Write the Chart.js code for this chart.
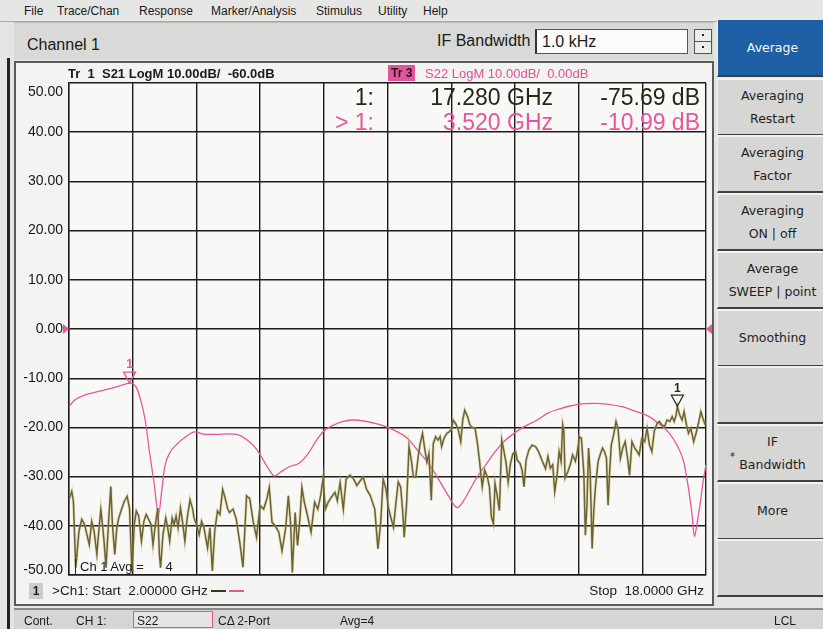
<!DOCTYPE html>
<html>
<head>
<meta charset="utf-8">
<script src="https://cdn.jsdelivr.net/npm/chart.js@4.4.1/dist/chart.umd.min.js"></script>
<style>
  html, body { margin: 0; padding: 0; }
  body { width: 823px; height: 629px; overflow: hidden; position: relative; background: #e4e4e2;
         font-family: "Liberation Sans", Arial, sans-serif; color: #1a1a1a; }
  .abs { position: absolute; white-space: nowrap; }
  .narrow { font-family: "Liberation Sans Narrow", "Arial Narrow", "Liberation Sans", sans-serif; }
  #menubar { left: 0; top: 0; width: 823px; height: 21px; background: #e6e6e4; border-bottom: 1px solid #a8a8a8; }
  #menubar span { position: absolute; top: 4px; font-size: 12px; }
  #chanbar { left: 14px; top: 22px; width: 700px; height: 37px; background: #d9d9d7; border-top: 1px solid #bbb; }
  #bezel { left: 7px; top: 58px; width: 3px; height: 571px; background: #222; }
  #panel { left: 14px; top: 61px; width: 700px; height: 545px; box-sizing: border-box;
           border: 2px solid #5a5a5a; background: #f3f3f1; }
  #chart { position: absolute; left: 0; top: 0; }
  .soft { position: absolute; left: 717px; width: 110px; box-sizing: border-box; background: #d6d6d4;
          border-top: 2px solid #f2f2f0; border-bottom: 2px solid #404040; border-left: 1px solid #f0f0f0;
          font-family: "DejaVu Sans", Verdana, sans-serif; font-size: 12.5px; color: #1e1e1e;
          display: flex; flex-direction: column; justify-content: center; align-items: center; line-height: 23px; }
  #status { left: 14px; top: 608px; width: 809px; height: 21px; background: #d5d5d3; border-top: 2px solid #8a8a8a; }
  #status span { position: absolute; top: 4px; font-size: 12px; }
</style>
</head>
<body>

<div id="menubar" class="abs narrow">
  <span style="left:24px">File</span>
  <span style="left:57px">Trace/Chan</span>
  <span style="left:139px">Response</span>
  <span style="left:211px">Marker/Analysis</span>
  <span style="left:316px">Stimulus</span>
  <span style="left:378px">Utility</span>
  <span style="left:423px">Help</span>
</div>

<div id="chanbar" class="abs"></div>
<div class="abs narrow" style="left:27px;top:36px;font-size:16px;">Channel 1</div>
<div class="abs narrow" style="left:437px;top:32px;font-size:16px;">IF Bandwidth</div>
<div class="abs narrow" style="left:535px;top:29px;width:153px;height:25px;box-sizing:border-box;background:#fbfbfa;border:1px solid #555;border-left:2px solid #333;font-size:16px;padding:3px 0 0 5px;">1.0 kHz</div>
<div class="abs" style="left:694px;top:29px;width:18px;height:25px;box-sizing:border-box;background:#ececea;border:1px solid #555;">
  <div style="position:absolute;left:0;top:11px;width:16px;height:1px;background:#555"></div>
  <div style="position:absolute;left:7px;top:4px;width:2px;height:2px;background:#222"></div>
  <div style="position:absolute;left:7px;top:16px;width:2px;height:2px;background:#222"></div>
</div>

<div id="bezel" class="abs"></div>

<div id="panel" class="abs">
  <canvas id="chart" width="696" height="541"></canvas>
</div>

<!-- trace headers and marker readout -->
<div class="abs narrow" style="left:68px;top:66px;font-size:13px;font-weight:bold;">Tr&nbsp;&nbsp;1&nbsp;&nbsp;S21 LogM 10.00dB/&nbsp;&nbsp;-60.0dB</div>
<div class="abs narrow" style="left:388px;top:65px;font-size:12px;font-weight:bold;background:#e2559a;color:#2a1020;padding:1px 3px;">Tr&nbsp;3</div>
<div class="abs narrow" style="left:425px;top:66px;font-size:13px;color:#e0509a;">S22 LogM 10.00dB/&nbsp;&nbsp;0.00dB</div>

<div class="abs" style="right:449px;top:84px;font-size:23px;color:#2a2418;">1:</div>
<div class="abs" style="right:270px;top:84px;font-size:23px;color:#2a2418;">17.280 GHz</div>
<div class="abs" style="right:123px;top:84px;font-size:23px;color:#2a2418;">-75.69 dB</div>
<div class="abs" style="right:449px;top:109px;font-size:23px;color:#e8559e;">&gt; 1:</div>
<div class="abs" style="right:270px;top:109px;font-size:23px;color:#e8559e;">3.520 GHz</div>
<div class="abs" style="right:123px;top:109px;font-size:23px;color:#e8559e;">-10.99 dB</div>

<div class="abs narrow" style="left:75px;top:559px;height:16px;border-left:1px solid #222;padding-left:4px;font-size:13px;">Ch 1 Avg =&nbsp;&nbsp;&nbsp;&nbsp;&nbsp;&nbsp;4</div>

<div class="abs" style="left:29px;top:583px;width:14px;height:16px;background:#cbcbc9;font-size:12px;font-weight:bold;text-align:center;line-height:16px;">1</div>
<div class="abs narrow" style="left:52px;top:583px;font-size:13.5px;">&gt;Ch1: Start&nbsp;&nbsp;2.00000 GHz</div>
<div class="abs" style="left:211px;top:590px;width:15px;height:2px;background:#3a3322"></div>
<div class="abs" style="left:229px;top:590px;width:15px;height:2px;background:#e8559e"></div>
<div class="abs narrow" style="right:119px;top:583px;font-size:13.5px;">Stop&nbsp;&nbsp;18.0000 GHz</div>

<div id="softkeys"></div>

<div id="status" class="abs narrow">
  <span style="left:10px">Cont.</span>
  <span style="left:62px">CH 1:</span>
  <span style="left:119px;top:1px;width:80px;height:17px;border:1px solid #e8559e;background:#e4e4e2;padding:2px 0 0 3px;box-sizing:border-box;">S22</span>
  <span style="left:204px">C&Delta; 2-Port</span>
  <span style="left:326px">Avg=4</span>
  <span style="left:760px">LCL</span>
</div>

<script>
// frequency axis in GHz, grid every 1.6 GHz (10 divisions)
const freqTicks = [2, 3.6, 5.2, 6.8, 8.4, 10, 11.6, 13.2, 14.8, 16.4, 18];
// display scale: Tr3 10 dB/div, ref 0 dB at centre
const dbTicks = [-50, -40, -30, -20, -10, 0, 10, 20, 30, 40, 50];

// Tr 3: S22 (dB)
const s22Freq = [2.00, 2.15, 2.40, 2.74, 3.08, 3.42, 3.52, 3.68, 3.81, 3.92, 4.02, 4.13, 4.25, 4.32, 4.40, 4.53,
  4.70, 4.95, 5.16, 5.41, 5.71, 5.99, 6.25, 6.50, 6.71, 6.84, 7.01, 7.17, 7.31, 7.53, 7.78, 8.00, 8.21, 8.42,
  8.63, 8.89, 9.15, 9.40, 9.74, 10.00, 10.25, 10.50, 10.75, 11.00, 11.25, 11.50, 11.75, 11.92, 12.08, 12.25,
  12.46, 12.67, 12.92, 13.18, 13.42, 13.76, 14.05, 14.30, 14.55, 14.88, 15.22, 15.55, 15.89, 16.22, 16.55,
  16.81, 17.06, 17.27, 17.44, 17.56, 17.65, 17.71, 17.77, 17.86, 17.94, 18.00];
const s22Mag = [-15.7, -14.4, -13.4, -12.7, -12.0, -11.2, -10.99, -11.7, -14.7, -18.8, -24.9, -30.9, -37.7, -33.6,
  -28.2, -25.2, -23.5, -21.8, -20.9, -21.4, -21.4, -21.3, -21.5, -22.7, -24.4, -26.1, -28.4, -29.9, -29.1, -28.0,
  -27.3, -25.4, -22.7, -20.6, -19.6, -18.8, -18.5, -18.7, -19.3, -20.0, -20.9, -22.2, -24.6, -27.0, -30.1, -33.5,
  -36.3, -34.8, -32.5, -30.1, -27.7, -25.3, -22.9, -21.2, -19.9, -18.5, -17.0, -16.3, -15.7, -15.2, -15.1, -15.3,
  -15.8, -16.7, -17.7, -19.2, -21.0, -23.6, -27.0, -32.4, -37.8, -42.2, -39.8, -35.1, -30.3, -27.6];

// Tr 1: S21 (dB), own scale 10 dB/div, ref -60 dB at centre
const s21Freq = [2.00, 2.07, 2.11, 2.17, 2.25, 2.32, 2.39, 2.45, 2.51, 2.57, 2.63, 2.70, 2.74, 2.80, 2.84, 2.88,
  2.93, 2.99, 3.05, 3.09, 3.15, 3.20, 3.25, 3.33, 3.39, 3.46, 3.52, 3.58, 3.64, 3.69, 3.75, 3.82, 3.88, 3.94,
  4.00, 4.06, 4.11, 4.17, 4.23, 4.27, 4.30, 4.36, 4.43, 4.48, 4.53, 4.59, 4.64, 4.69, 4.74, 4.80, 4.85, 4.91,
  4.97, 5.04, 5.10, 5.14, 5.20, 5.27, 5.33, 5.39, 5.48, 5.54, 5.60, 5.66, 5.73, 5.79, 5.86, 5.92, 5.98, 6.03,
  6.12, 6.20, 6.29, 6.37, 6.46, 6.54, 6.63, 6.71, 6.80, 6.89, 6.97, 7.03, 7.10, 7.18, 7.27, 7.35, 7.44, 7.51,
  7.57, 7.61, 7.68, 7.74, 7.80, 7.85, 7.91, 7.99, 8.08, 8.17, 8.25, 8.32, 8.38, 8.44, 8.51, 8.59, 8.68, 8.74,
  8.81, 8.89, 8.96, 9.06, 9.15, 9.23, 9.32, 9.39, 9.47, 9.57, 9.68, 9.76, 9.83, 9.89, 9.96, 10.02, 10.08,
  10.15, 10.21, 10.27, 10.33, 10.38, 10.42, 10.48, 10.54, 10.60, 10.65, 10.71, 10.77, 10.82, 10.88, 10.94,
  10.99, 11.04, 11.10, 11.15, 11.21, 11.27, 11.32, 11.36, 11.42, 11.49, 11.55, 11.60, 11.65, 11.71, 11.77,
  11.84, 11.89, 11.94, 12.01, 12.07, 12.13, 12.20, 12.26, 12.31, 12.38, 12.44, 12.51, 12.56, 12.61, 12.66,
  12.70, 12.76, 12.81, 12.87, 12.92, 12.98, 13.03, 13.09, 13.15, 13.22, 13.26, 13.33, 13.38, 13.43, 13.48,
  13.55, 13.63, 13.72, 13.80, 13.88, 13.97, 14.03, 14.09, 14.15, 14.20, 14.26, 14.31, 14.36, 14.40, 14.43,
  14.46, 14.53, 14.59, 14.65, 14.72, 14.77, 14.82, 14.87, 14.93, 14.97, 15.01, 15.05, 15.09, 15.14, 15.18,
  15.22, 15.29, 15.34, 15.40, 15.45, 15.50, 15.54, 15.58, 15.62, 15.68, 15.74, 15.79, 15.85, 15.91, 15.97,
  16.03, 16.08, 16.14, 16.21, 16.27, 16.32, 16.39, 16.46, 16.52, 16.58, 16.64, 16.70, 16.77, 16.83, 16.89,
  16.96, 17.02, 17.09, 17.15, 17.20, 17.25, 17.28, 17.34, 17.40, 17.45, 17.51, 17.56, 17.62, 17.69, 17.75,
  17.82, 17.87, 17.92, 17.98];
const s21Mag = [-94.7, -93.0, -95.0, -108.5, -101.1, -98.7, -99.7, -101.8, -103.8, -99.1, -101.1, -105.8, -101.8,
  -96.7, -99.7, -103.1, -108.5, -99.7, -92.0, -99.7, -105.8, -100.4, -98.4, -96.4, -95.0, -94.0, -96.4, -109.2,
  -99.7, -97.0, -98.0, -103.1, -99.1, -97.7, -98.7, -99.7, -103.8, -99.7, -96.4, -105.8, -108.5, -101.8, -98.4,
  -100.4, -103.1, -98.4, -99.7, -98.0, -100.4, -96.4, -99.1, -103.1, -98.4, -94.7, -96.4, -98.4, -99.7, -101.8,
  -99.1, -100.4, -104.5, -100.4, -109.2, -101.1, -97.0, -97.7, -92.6, -94.3, -96.4, -97.3, -96.6, -98.6, -103.4,
  -108.4, -93.9, -94.5, -99.3, -102.3, -95.9, -96.6, -94.5, -92.2, -99.3, -100.0, -101.3, -105.1, -100.6, -93.9,
  -100.0, -109.5, -97.3, -104.0, -98.6, -92.2, -95.2, -97.9, -101.3, -95.2, -96.6, -93.9, -90.5, -96.6, -95.2,
  -94.2, -93.2, -94.9, -91.2, -96.6, -90.5, -89.7, -90.5, -91.8, -90.8, -90.1, -92.5, -93.9, -96.6, -104.7,
  -99.3, -90.5, -92.5, -96.2, -98.2, -100.3, -95.5, -91.1, -92.1, -96.9, -102.3, -95.5, -83.9, -86.7, -90.1,
  -90.1, -86.0, -83.3, -81.2, -84.6, -87.0, -85.3, -94.8, -83.3, -81.9, -82.6, -81.9, -83.9, -82.2, -81.2,
  -80.9, -80.5, -78.5, -79.2, -80.2, -82.9, -78.5, -76.5, -77.8, -79.5, -80.0, -80.2, -83.3, -86.7, -92.1,
  -88.7, -90.1, -92.1, -98.2, -99.6, -91.4, -94.1, -96.9, -82.6, -84.6, -87.3, -91.1, -87.3, -85.3, -85.0,
  -86.7, -87.3, -88.7, -92.1, -86.7, -84.6, -83.6, -83.9, -85.0, -86.7, -88.4, -85.9, -88.3, -87.6, -93.1,
  -89.7, -84.9, -86.9, -79.5, -80.8, -90.3, -89.0, -87.6, -85.6, -86.9, -84.9, -81.9, -82.2, -89.0, -101.9,
  -95.8, -84.2, -89.0, -104.6, -97.1, -92.4, -86.9, -85.6, -84.2, -84.9, -86.3, -95.8, -89.0, -83.6, -81.5,
  -78.8, -80.2, -86.3, -84.2, -82.9, -86.3, -89.7, -82.9, -84.2, -84.9, -85.6, -82.2, -82.9, -80.2, -83.6,
  -84.9, -80.8, -79.2, -78.8, -79.5, -79.8, -78.5, -78.8, -77.8, -78.8, -77.5, -75.69, -77.5, -78.5, -76.8,
  -79.5, -81.2, -80.2, -82.9, -81.2, -78.8, -76.8, -78.1, -79.5];

// marker 1 on each trace: [GHz, dB]
const s22Marker = [3.52, -10.99];
const s21Marker = [17.28, -75.69];

const softkeyLabels = [
  ["Average"], ["Averaging", "Restart"], ["Averaging", "Factor"], ["Averaging", "ON | off"],
  ["Average", "SWEEP | point"], ["Smoothing"], [], ["IF", "Bandwidth"], ["More"], []
];

// softkey column
const sk = document.getElementById("softkeys");
softkeyLabels.forEach((lines, i) => {
  const d = document.createElement("div");
  d.className = "soft";
  d.style.top = (i === 0 ? 20 : 20 + i * 57.7) + "px";
  d.style.height = (i === 0 ? 57 : 58) + "px";
  if (i === 0) {
    d.style.background = "#1f5fa6";
    d.style.color = "#f4f8ff";
    d.style.borderTop = "none";
  }
  if (i === 7) {
    const star = document.createElement("span");
    star.textContent = "*";
    star.style.cssText = "position:absolute;left:12px;top:19px;font-size:10px;";
    d.appendChild(star);
  }
  lines.forEach(t => {
    const s = document.createElement("span");
    s.textContent = t;
    d.appendChild(s);
  });
  sk.appendChild(d);
});

const S21_COLOR = "#2e2818";
const S22_COLOR = "#e5579c";
const GRID = "#1c1c1c";

const s21Points = s21Freq.map((f, i) => ({ x: f, y: s21Mag[i] }));
const s22Points = s22Freq.map((f, i) => ({ x: f, y: s22Mag[i] }));

const vnaPlugin = {
  id: "vna",
  beforeDraw(chart) {
    const { ctx, chartArea: a } = chart;
    ctx.save();
    ctx.fillStyle = "#f8f8f6";
    ctx.fillRect(a.left, a.top, a.right - a.left, a.bottom - a.top);
    ctx.restore();
  },
  afterDraw(chart) {
    const { ctx, chartArea: a } = chart;
    const y = chart.scales.y;
    const x = chart.scales.x;
    const y21 = chart.scales.yS21;
    ctx.save();

    // y tick labels
    ctx.font = '14px "Liberation Sans", Arial, sans-serif';
    ctx.fillStyle = "#161616";
    ctx.textAlign = "right";
    ctx.textBaseline = "middle";
    dbTicks.forEach(v => {
      let py = y.getPixelForValue(v);
      if (v === dbTicks[dbTicks.length - 1]) py += 9;
      if (v === dbTicks[0]) py -= 5;
      ctx.fillText(v.toFixed(2), a.left - 6, py);
    });

    // reference position arrows (0 dB)
    const y0 = y.getPixelForValue(0);
    ctx.fillStyle = S22_COLOR;
    ctx.beginPath();
    ctx.moveTo(a.left, y0); ctx.lineTo(a.left - 6, y0 - 5); ctx.lineTo(a.left - 6, y0 + 5);
    ctx.closePath(); ctx.fill();
    ctx.beginPath();
    ctx.moveTo(a.right, y0); ctx.lineTo(a.right + 6, y0 - 5); ctx.lineTo(a.right + 6, y0 + 5);
    ctx.closePath(); ctx.fill();

    // markers
    function marker(px, py, color) {
      ctx.strokeStyle = color;
      ctx.fillStyle = color;
      ctx.lineWidth = 1.3;
      ctx.beginPath();
      ctx.moveTo(px, py); ctx.lineTo(px - 6, py - 11); ctx.lineTo(px + 6, py - 11);
      ctx.closePath(); ctx.stroke();
      ctx.font = 'bold 12px "Liberation Sans", Arial, sans-serif';
      ctx.textAlign = "center";
      ctx.textBaseline = "bottom";
      ctx.fillText("1", px, py - 12);
    }
    marker(x.getPixelForValue(s22Marker[0]), y.getPixelForValue(s22Marker[1]), S22_COLOR);
    marker(x.getPixelForValue(s21Marker[0]), y21.getPixelForValue(s21Marker[1]), S21_COLOR);
    ctx.restore();
  }
};

const gridOpts = { color: GRID, lineWidth: 1.4, drawTicks: false };

new Chart(document.getElementById("chart"), {
  type: "line",
  data: {
    datasets: [
      {
        label: "S21 glow",
        data: s21Points,
        yAxisID: "yS21",
        borderColor: "rgba(200,188,100,0.4)",
        borderWidth: 3,
        pointRadius: 0,
        tension: 0
      },
      {
        label: "Tr 1 S21",
        data: s21Points,
        yAxisID: "yS21",
        borderColor: S21_COLOR,
        borderWidth: 1.5,
        pointRadius: 0,
        tension: 0
      },
      {
        label: "Tr 3 S22",
        data: s22Points,
        yAxisID: "y",
        borderColor: S22_COLOR,
        borderWidth: 1.3,
        pointRadius: 0,
        cubicInterpolationMode: "monotone"
      }
    ]
  },
  options: {
    responsive: false,
    animation: false,
    parsing: false,
    layout: { padding: { left: 53, right: 6, top: 20, bottom: 29 } },
    scales: {
      x: {
        type: "linear",
        min: 2,
        max: 18,
        afterBuildTicks: s => { s.ticks = freqTicks.map(v => ({ value: v })); },
        ticks: { display: false },
        grid: gridOpts,
        border: { display: true, color: GRID, width: 1.4 }
      },
      y: {
        type: "linear",
        min: -50,
        max: 50,
        afterBuildTicks: s => { s.ticks = dbTicks.map(v => ({ value: v })); },
        ticks: { display: false },
        grid: gridOpts,
        border: { display: true, color: GRID, width: 1.4 }
      },
      yS21: {
        type: "linear",
        display: false,
        min: -110,
        max: -10
      }
    },
    plugins: {
      legend: { display: false },
      tooltip: { enabled: false }
    }
  },
  plugins: [vnaPlugin]
});
</script>
</body>
</html>
